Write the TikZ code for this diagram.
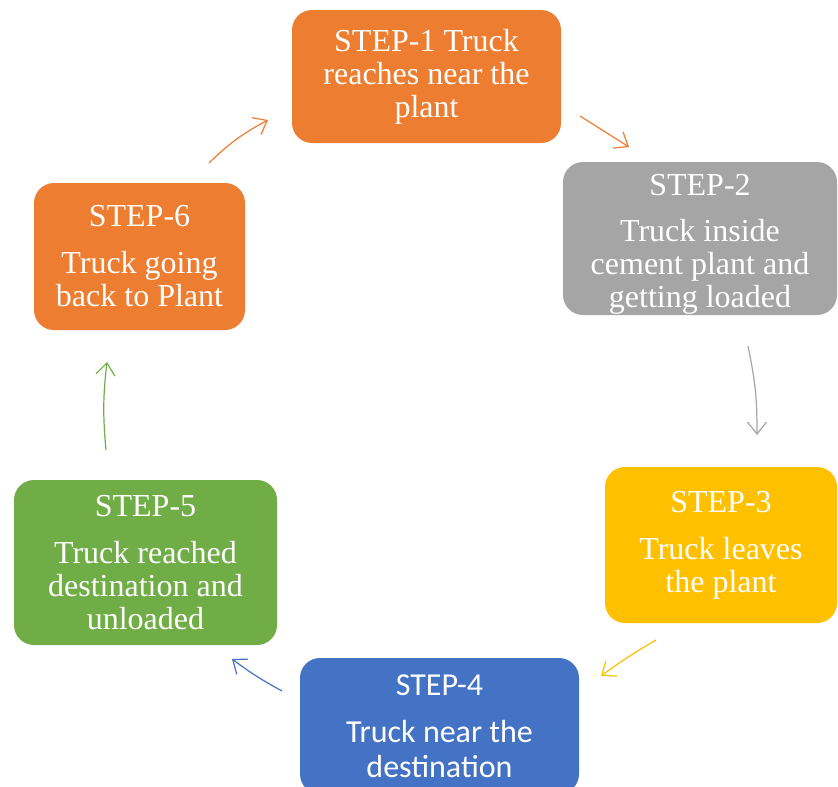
\documentclass[tikz,border=0pt]{standalone}
\usepackage{fontspec}
\setmainfont{Liberation Serif}
\newfontfamily\stepserif{Liberation Serif}
\newfontfamily\stepsans{Carlito}
\usetikzlibrary{arrows.meta,positioning}
\definecolor{steporange}{HTML}{ED7D31}
\definecolor{stepgray}{HTML}{A5A5A5}
\definecolor{stepgold}{HTML}{FFC000}
\definecolor{stepblue}{HTML}{4472C4}
\definecolor{stepgreen}{HTML}{70AD47}
\tikzset{
  stepbox/.style={
    rectangle, rounded corners=20pt, fill=#1, draw=none,
    text=white, align=center, inner sep=4pt,
    font=\stepserif\fontsize{32}{33}\selectfont
  },
  stepbox/.default=steporange,
  cyclearrow/.style={
    -{Straight Barb[length=12pt,width=19pt,line width=1.2pt]}, line width=1.2pt, color=#1
  },
  cyclearrow/.default=steporange,
}
\begin{document}
\begin{tikzpicture}[x=1pt,y=-1pt]
  \useasboundingbox (0,0) rectangle (838,787);
  \clip (0,0) rectangle (838,787);

  % steps
  \node[stepbox=steporange, minimum width=269pt, minimum height=133pt] (s1) at (426.5,76.5)
    {STEP-1 Truck\\reaches near the\\plant};
  \node[stepbox=stepgray, minimum width=274pt, minimum height=153pt, inner ysep=0pt] (s2) at (700,238.5)
    {\rule{0pt}{33pt}STEP-2\\[13pt]Truck inside\\cement plant and\\getting loaded};
  \node[stepbox=stepgold, minimum width=232pt, minimum height=156pt] (s3) at (721,545)
    {STEP-3\\[14pt]Truck leaves\\the plant};
  \node[stepbox=stepblue, minimum width=279pt, minimum height=136pt,
        font=\stepsans\fontsize{32}{35}\selectfont] (s4) at (439.5,726)
    {STEP-4\\[12pt]Truck near the\\destination};
  \node[stepbox=stepgreen, minimum width=263pt, minimum height=165pt] (s5) at (145.5,562.5)
    {STEP-5\\[14pt]Truck reached\\destination and\\unloaded};
  \node[stepbox=steporange, minimum width=211pt, minimum height=147pt] (s6) at (139.5,256.5)
    {STEP-6\\[14pt]Truck going\\back to Plant};

  % arrow ends
  \coordinate (a61) at (209,163);  \coordinate (a16) at (268,120);
  \coordinate (a12) at (580,116);  \coordinate (a21) at (629,147);
  \coordinate (a23) at (748,346);  \coordinate (a32) at (757,435);
  \coordinate (a34) at (656,640);  \coordinate (a43) at (601,676);
  \coordinate (a45) at (282,691);  \coordinate (a54) at (232,659);
  \coordinate (a56) at (106,450);  \coordinate (a65) at (107,362);

  \draw[cyclearrow=steporange] (a61) to[bend left=8] (a16);
  \draw[cyclearrow=steporange] (a12) to (a21);
  \draw[cyclearrow=stepgray] (a23) .. controls (756,385) and (757,400) .. (a32);
  \draw[cyclearrow=stepgold] (a34) to[bend right=3] (a43);
  \draw[cyclearrow=stepblue] (a45) to[bend left=4] (a54);
  \draw[cyclearrow=stepgreen] (a56) to[bend left=6] (a65);
\end{tikzpicture}
\end{document}
